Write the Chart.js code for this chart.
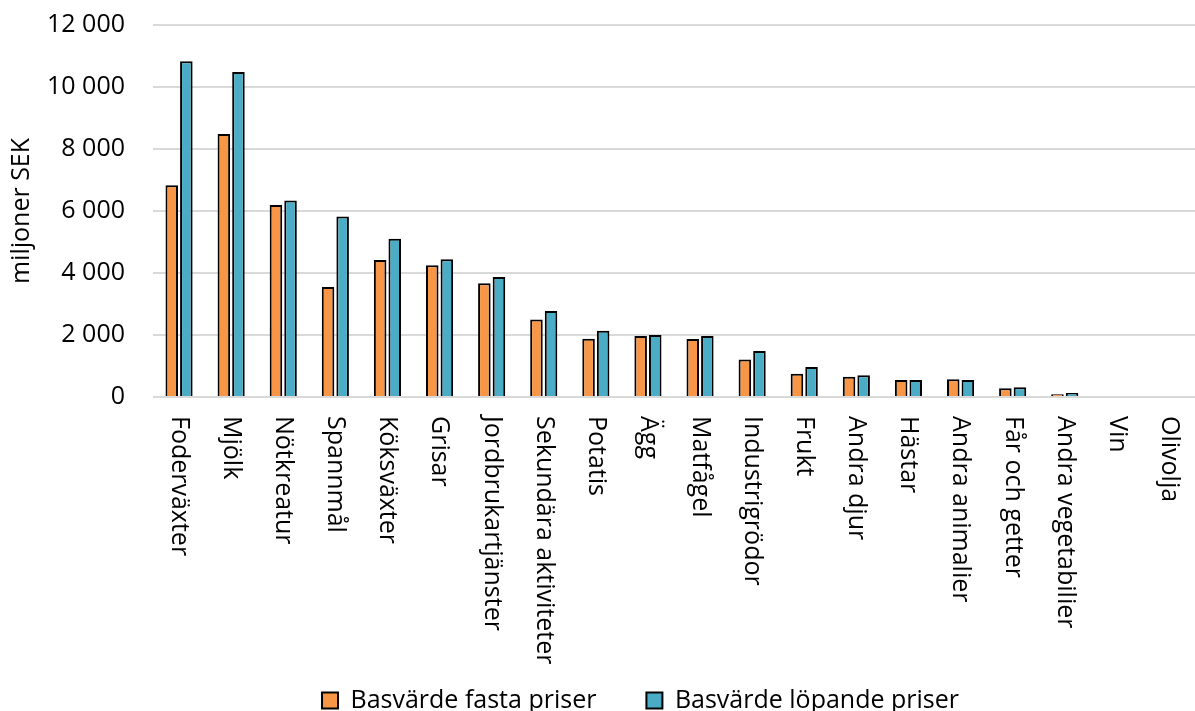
<!DOCTYPE html>
<html>
<head>
<meta charset="utf-8">
<script src="https://cdn.jsdelivr.net/npm/chart.js@4"></script>
<style>
  html, body { margin: 0; padding: 0; background: #fff; }
  #wrap { width: 1195px; height: 711px; }
</style>
</head>
<body>
<div id="wrap"><canvas id="chart"></canvas></div>
<script>
var categories = ['Foderväxter', 'Mjölk', 'Nötkreatur', 'Spannmål', 'Köksväxter', 'Grisar',
  'Jordbrukartjänster', 'Sekundära aktiviteter', 'Potatis', 'Ägg', 'Matfågel', 'Industrigrödor',
  'Frukt', 'Andra djur', 'Hästar', 'Andra animalier', 'Får och getter', 'Andra vegetabilier',
  'Vin', 'Olivolja'];
var fastaPriser = [6830, 8480, 6190, 3550, 4420, 4250, 3670, 2500, 1880, 1965, 1870, 1210,
  750, 650, 550, 570, 285, 90, 0, 0];
var lopandePriser = [10830, 10480, 6340, 5825, 5105, 4445, 3875, 2775, 2135, 2000, 1965, 1480,
  965, 700, 550, 545, 315, 130, 0, 0];
var yTicks = [0, 2000, 4000, 6000, 8000, 10000, 12000];

var FONT = '"Open Sans", sans-serif';

// x labels read top-to-bottom, so they are drawn here at the scale's tick positions
var downLabels = {
  id: 'downLabels',
  afterLayout: function (chart) {
    // legend sits a bit right of the canvas centre in the original
    chart.legend.left += 43;
    chart.legend.right += 43;
  },
  afterDraw: function (chart) {
    var xs = chart.scales.x;
    var c = chart.ctx;
    c.save();
    c.font = '25px ' + FONT;
    c.fillStyle = '#000';
    c.textAlign = 'left';
    c.textBaseline = 'middle';
    categories.forEach(function (label, i) {
      c.save();
      c.translate(xs.getPixelForTick(i), xs.top + 19);
      c.rotate(Math.PI / 2);
      c.fillText(label, 0, 0);
      c.restore();
    });
    c.restore();
  }
};

var ctx = document.getElementById('chart').getContext('2d');
new Chart(ctx, {
  type: 'bar',
  data: {
    labels: categories,
    datasets: [
      {
        label: 'Basvärde fasta priser',
        data: fastaPriser,
        backgroundColor: '#F79646',
        borderColor: '#000',
        borderWidth: 2,
        borderSkipped: 'start',
        barPercentage: 0.86,
        categoryPercentage: 0.56
      },
      {
        label: 'Basvärde löpande priser',
        data: lopandePriser,
        backgroundColor: '#4BACC6',
        borderColor: '#000',
        borderWidth: 2,
        borderSkipped: 'start',
        barPercentage: 0.86,
        categoryPercentage: 0.56
      }
    ]
  },
  options: {
    responsive: true,
    maintainAspectRatio: false,
    animation: false,
    layout: { padding: { top: 25, right: 0, left: 0, bottom: -12 } },
    scales: {
      x: {
        grid: { display: false },
        border: { display: false },
        ticks: { display: false, autoSkip: false },
        afterFit: function (scale) { scale.height = 241; }
      },
      y: {
        min: 0,
        max: 12000,
        afterBuildTicks: function (axis) {
          axis.ticks = yTicks.map(function (v) { return { value: v }; });
        },
        afterFit: function (scale) { scale.width = 153; },
        grid: { color: '#d9d9d9', lineWidth: 2, tickLength: 28, tickColor: 'transparent' },
        border: { display: false },
        ticks: {
          color: '#000',
          padding: 0,
          font: { family: FONT, size: 25 },
          callback: function (v) {
            return String(v).replace(/\B(?=(\d{3})+(?!\d))/g, ' ');
          }
        },
        title: {
          display: true,
          text: 'miljoner SEK',
          color: '#000',
          font: { family: FONT, size: 25 },
          padding: { top: 7, bottom: 8 }
        }
      }
    },
    plugins: {
      legend: {
        position: 'bottom',
        labels: {
          color: '#000',
          font: { family: FONT, size: 25 },
          boxWidth: 16,
          boxHeight: 16,
          padding: 50
        }
      },
      tooltip: { enabled: false }
    }
  },
  plugins: [downLabels]
});
</script>
</body>
</html>
